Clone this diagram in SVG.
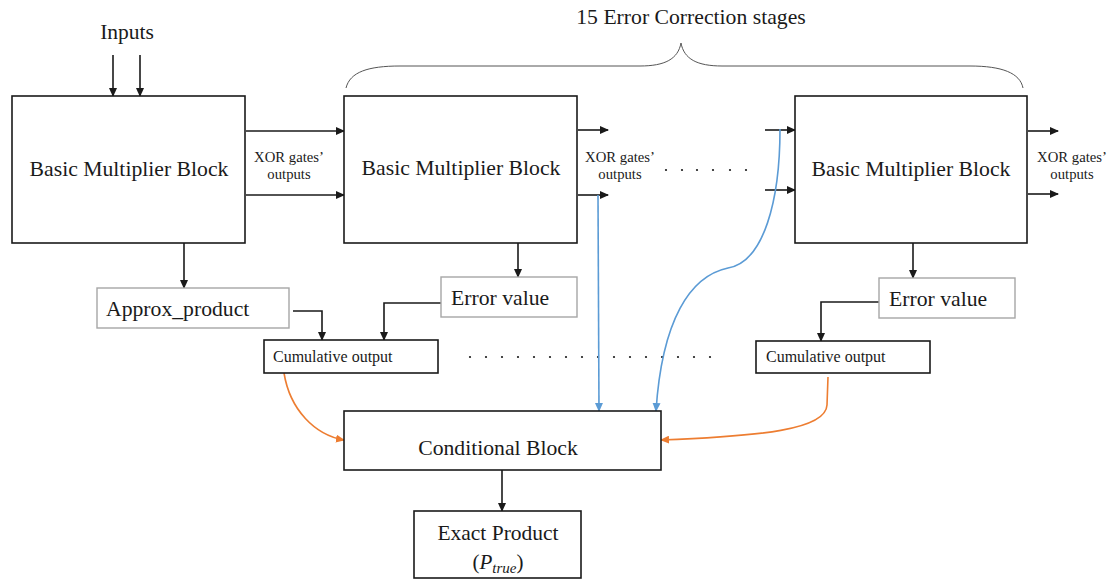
<svg xmlns="http://www.w3.org/2000/svg" width="1109" height="581" viewBox="0 0 1109 581">
<style>
text{font-family:"Liberation Serif","Times New Roman",serif;fill:#1a1a1a}
.box{fill:#fff;stroke:#1a1a1a;stroke-width:1.6}
.gbox{fill:#fff;stroke:#a6a6a6;stroke-width:1.4}
.ln{fill:none;stroke:#1a1a1a;stroke-width:1.6}
.blue{fill:none;stroke:#5b9bd5;stroke-width:1.6}
.orange{fill:none;stroke:#ed7d31;stroke-width:1.6}
.big{font-size:21.7px}
.sm{font-size:14.7px}
.cum{font-size:16px}
.dot{fill:#1a1a1a}
</style>
<defs>
<marker id="ab" markerWidth="9" markerHeight="8" refX="8" refY="4" orient="auto" markerUnits="userSpaceOnUse"><path d="M0,0 L9,4 L0,8 Z" fill="#1a1a1a"/></marker>
<marker id="abl" markerWidth="9" markerHeight="8" refX="8" refY="4" orient="auto" markerUnits="userSpaceOnUse"><path d="M0,0 L9,4 L0,8 Z" fill="#5b9bd5"/></marker>
<marker id="aor" markerWidth="9" markerHeight="8" refX="8" refY="4" orient="auto" markerUnits="userSpaceOnUse"><path d="M0,0 L9,4 L0,8 Z" fill="#ed7d31"/></marker>
</defs>
<rect width="1109" height="581" fill="#fff"/>

<g id="labels">
<text x="127" y="39" text-anchor="middle" style="font-size:21.5px">Inputs</text>
<text x="691" y="24" text-anchor="middle" style="font-size:21.7px">15 Error Correction stages</text>
<path d="M346 88 C350 72 368 66 400 66 L640 66 C665 66 678 59 681 43 C684 59 697 66 722 66 L970 66 C1002 66 1020 73 1023 88" fill="none" stroke="#555" stroke-width="1"/>
<text x="289" y="162" class="sm" text-anchor="middle">XOR gates’</text>
<text x="289" y="179" class="sm" text-anchor="middle">outputs</text>
<text x="620" y="162" class="sm" text-anchor="middle">XOR gates’</text>
<text x="620" y="179" class="sm" text-anchor="middle">outputs</text>
<text x="1072" y="162" class="sm" text-anchor="middle">XOR gates’</text>
<text x="1072" y="179" class="sm" text-anchor="middle">outputs</text>
<g class="dot">
<circle cx="666" cy="170" r="1.1"/><circle cx="682" cy="170" r="1.1"/><circle cx="697" cy="170" r="1.1"/><circle cx="713" cy="170" r="1.1"/><circle cx="730" cy="170" r="1.1"/><circle cx="746" cy="170" r="1.1"/>
<circle cx="470" cy="357" r="1.1"/><circle cx="486" cy="357" r="1.1"/><circle cx="502" cy="357" r="1.1"/><circle cx="518" cy="357" r="1.1"/><circle cx="534" cy="357" r="1.1"/><circle cx="550" cy="357" r="1.1"/><circle cx="566" cy="357" r="1.1"/><circle cx="582" cy="357" r="1.1"/><circle cx="598" cy="357" r="1.1"/><circle cx="614" cy="357" r="1.1"/><circle cx="630" cy="357" r="1.1"/><circle cx="646" cy="357" r="1.1"/><circle cx="662" cy="357" r="1.1"/><circle cx="678" cy="357" r="1.1"/><circle cx="694" cy="357" r="1.1"/><circle cx="710" cy="357" r="1.1"/>
</g>
</g>

<g id="connectors">
<line x1="113" y1="55" x2="113" y2="96" class="ln" marker-end="url(#ab)"/>
<line x1="140" y1="55" x2="140" y2="96" class="ln" marker-end="url(#ab)"/>
<line x1="246" y1="131" x2="344" y2="131" class="ln" marker-end="url(#ab)"/>
<line x1="246" y1="195" x2="344" y2="195" class="ln" marker-end="url(#ab)"/>
<line x1="578" y1="130" x2="608" y2="130" class="ln" marker-end="url(#ab)"/>
<line x1="578" y1="195" x2="608" y2="195" class="ln" marker-end="url(#ab)"/>
<line x1="765" y1="130" x2="795" y2="130" class="ln" marker-end="url(#ab)"/>
<line x1="765" y1="190" x2="795" y2="190" class="ln" marker-end="url(#ab)"/>
<line x1="1028" y1="131" x2="1058" y2="131" class="ln" marker-end="url(#ab)"/>
<line x1="1028" y1="194" x2="1058" y2="194" class="ln" marker-end="url(#ab)"/>
<line x1="184" y1="243" x2="184" y2="288" class="ln" marker-end="url(#ab)"/>
<line x1="518" y1="243" x2="518" y2="277" class="ln" marker-end="url(#ab)"/>
<line x1="913" y1="243" x2="913" y2="278" class="ln" marker-end="url(#ab)"/>
<polyline points="293,311 322,311 322,340" class="ln" marker-end="url(#ab)"/>
<polyline points="441,303 384,303 384,340" class="ln" marker-end="url(#ab)"/>
<polyline points="879,302 821,302 821,341" class="ln" marker-end="url(#ab)"/>
<line x1="502" y1="470" x2="502" y2="511" class="ln" marker-end="url(#ab)"/>
<path d="M598 195 L599 411" class="blue" marker-end="url(#abl)"/>
<path d="M780 129 C780 200 764 262 728 268 C690 276 662 320 656 411" class="blue" marker-end="url(#abl)"/>
<path d="M284 373 C290 410 315 435 344 440" class="orange" marker-end="url(#aor)"/>
<path d="M828 377 L827 405 C826 430 760 436 661 440" class="orange" marker-end="url(#aor)"/>
</g>

<g id="bmb1"><rect x="12" y="96" width="233" height="147" class="box"/><text x="129" y="176" class="big" text-anchor="middle">Basic Multiplier Block</text></g>
<g id="bmb2"><rect x="344" y="96" width="233" height="147" class="box"/><text x="461" y="175" class="big" text-anchor="middle">Basic Multiplier Block</text></g>
<g id="bmb3"><rect x="795" y="96" width="232" height="147" class="box"/><text x="911" y="176" class="big" text-anchor="middle">Basic Multiplier Block</text></g>
<g id="approx"><rect x="97" y="288" width="192" height="40" class="gbox"/><text x="106" y="316" class="big">Approx_product</text></g>
<g id="err1"><rect x="441" y="277" width="136" height="40" class="gbox"/><text x="451" y="305" class="big">Error value</text></g>
<g id="err2"><rect x="879" y="278" width="136" height="40" class="gbox"/><text x="889" y="306" class="big">Error value</text></g>
<g id="cum1"><rect x="264" y="340" width="174" height="33" class="box"/><text x="273" y="362" class="cum">Cumulative output</text></g>
<g id="cum2"><rect x="756" y="341" width="174" height="32" class="box"/><text x="766" y="362" class="cum">Cumulative output</text></g>
<g id="cond"><rect x="344" y="411" width="317" height="59" class="box"/><text x="498" y="455" class="big" text-anchor="middle">Conditional Block</text></g>
<g id="exact"><rect x="414" y="511" width="167" height="67" class="box"/>
<text x="498" y="540" text-anchor="middle" style="font-size:21.5px">Exact Product</text>
<text x="498" y="569" text-anchor="middle" style="font-size:21px">(<tspan font-style="italic">P</tspan><tspan font-style="italic" font-size="15px" dy="4">true</tspan><tspan dy="-4">)</tspan></text>
</g>
</svg>
